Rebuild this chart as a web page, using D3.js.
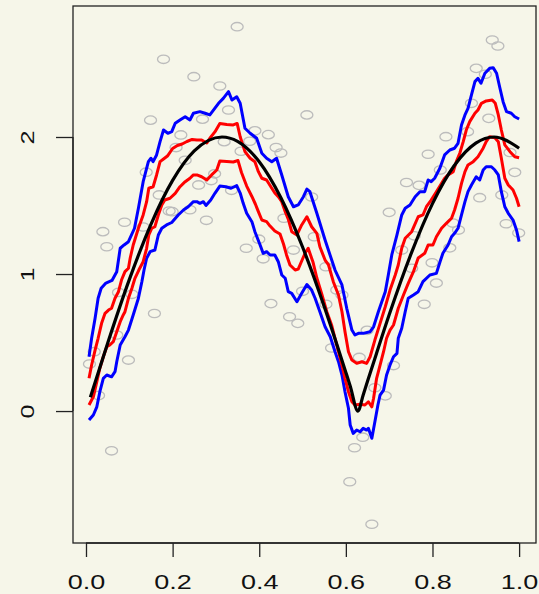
<!DOCTYPE html>
<html>
<head>
<meta charset="utf-8">
<script src="https://cdn.jsdelivr.net/npm/d3@7"></script>
<style>
  html, body { margin: 0; padding: 0; background: #f6f6e9; }
  svg { display: block; }
</style>
</head>
<body>
<div id="chart"></div>
<script>

// observed points (x, y)
const obsX = [0.008,0.019,0.029,0.059,0.039,0.048,0.075,0.106,0.071,0.098,0.089,0.132,0.158,0.139,0.149,0.169,0.179,0.192,0.199,0.208,
  0.219,0.229,0.240,0.249,0.260,0.269,0.278,0.289,0.297,0.309,0.319,0.329,0.336,0.349,0.358,0.370,0.378,0.390,0.399,0.409,
  0.421,0.427,0.439,0.450,0.457,0.470,0.479,0.489,0.500,0.510,0.527,0.521,0.554,0.554,0.579,0.591,0.567,0.609,0.620,0.631,
  0.639,0.649,0.660,0.667,0.691,0.700,0.710,0.729,0.740,0.752,0.758,0.769,0.781,0.790,0.799,0.809,0.818,0.831,0.840,0.847,
  0.860,0.881,0.890,0.901,0.909,0.922,0.930,0.938,0.951,0.960,0.970,0.979,0.990,0.999];
const obsY = [0.343,0.433,0.113,-0.290,1.309,1.199,0.866,0.852,0.555,0.372,1.378,1.343,0.712,1.743,2.123,1.577,2.567,1.460,1.455,1.923,
  2.015,1.830,1.469,2.440,1.650,2.130,1.392,1.682,1.731,2.372,1.966,2.197,1.611,2.805,1.896,1.188,1.969,2.045,1.254,1.111,
  2.017,0.784,1.923,1.883,1.407,0.688,1.175,0.640,0.874,2.161,1.272,1.562,1.053,0.779,0.883,0.847,0.460,-0.516,-0.268,0.391,
  -0.191,0.589,-0.826,0.170,0.111,1.450,0.332,1.175,1.668,1.042,1.279,1.647,0.779,1.874,1.082,0.934,1.759,2.002,1.191,1.372,
  1.321,2.039,2.246,2.501,1.557,2.458,2.136,2.708,2.664,1.577,1.367,1.887,1.742,1.299];

// true mean curve
const trueCurve = [[0.01,0.100],[0.05,0.495],[0.10,0.959],[0.15,1.363],[0.20,1.683],[0.25,1.898],[0.314,2.000],[0.35,1.968],
  [0.40,1.819],[0.45,1.556],[0.50,1.197],[0.55,0.763],[0.58,0.478],[0.60,0.282],[0.61,0.183],[0.628,0.000],[0.64,0.117],
  [0.65,0.217],[0.67,0.413],[0.70,0.702],[0.75,1.143],[0.80,1.514],[0.85,1.790],[0.90,1.955],[0.942,2.000],[1.00,1.918]];

// outer band (blue)
const upperBlue = [[0.007,0.396],[0.013,0.531],[0.021,0.677],[0.028,0.823],[0.035,0.896],[0.046,0.934],[0.060,0.953],[0.071,1.017],
  [0.079,1.188],[0.088,1.212],[0.098,1.236],[0.112,1.334],[0.121,1.480],[0.132,1.674],[0.144,1.820],[0.150,1.845],[0.155,1.820],
  [0.163,1.869],[0.171,1.966],[0.179,2.051],[0.189,2.027],[0.198,2.039],[0.206,2.100],[0.217,2.124],[0.229,2.148],[0.240,2.124],
  [0.248,2.173],[0.263,2.185],[0.275,2.173],[0.286,2.161],[0.306,2.246],[0.317,2.282],[0.329,2.331],[0.337,2.270],[0.348,2.294],
  [0.356,2.246],[0.367,2.064],[0.379,2.027],[0.394,1.991],[0.406,1.881],[0.417,1.845],[0.429,1.820],[0.440,1.845],[0.452,1.723],
  [0.467,1.564],[0.479,1.491],[0.490,1.504],[0.502,1.564],[0.510,1.620],[0.517,1.601],[0.533,1.443],[0.552,1.248],[0.575,1.029],
  [0.591,0.920],[0.602,0.750],[0.614,0.591],[0.621,0.555],[0.629,0.567],[0.640,0.567],[0.656,0.579],[0.664,0.615],[0.675,0.725],
  [0.691,0.871],[0.698,0.993],[0.706,1.139],[0.718,1.285],[0.729,1.431],[0.737,1.480],[0.748,1.504],[0.760,1.564],[0.771,1.601],
  [0.782,1.601],[0.790,1.686],[0.797,1.674],[0.805,1.699],[0.817,1.772],[0.828,1.869],[0.840,1.905],[0.851,1.918],[0.859,1.954],
  [0.867,2.088],[0.875,2.161],[0.882,2.209],[0.890,2.307],[0.898,2.404],[0.905,2.428],[0.912,2.392],[0.921,2.465],[0.932,2.501],
  [0.940,2.506],[0.948,2.465],[0.955,2.367],[0.963,2.258],[0.971,2.185],[0.982,2.173],[0.990,2.148],[1.000,2.131]];

const lowerBlue = [[0.007,-0.066],[0.017,-0.029],[0.025,0.031],[0.032,0.141],[0.040,0.239],[0.048,0.263],[0.059,0.250],[0.067,0.287],
  [0.071,0.360],[0.079,0.482],[0.090,0.542],[0.098,0.591],[0.109,0.701],[0.121,0.823],[0.129,0.944],[0.134,1.029],[0.140,1.115],
  [0.148,1.163],[0.159,1.175],[0.167,1.285],[0.175,1.334],[0.186,1.358],[0.198,1.376],[0.213,1.431],[0.225,1.467],[0.236,1.491],
  [0.248,1.528],[0.256,1.528],[0.263,1.516],[0.271,1.528],[0.277,1.500],[0.288,1.540],[0.298,1.591],[0.309,1.642],[0.323,1.637],
  [0.335,1.626],[0.348,1.645],[0.356,1.591],[0.363,1.516],[0.371,1.443],[0.383,1.382],[0.390,1.309],[0.402,1.212],[0.409,1.151],
  [0.417,1.163],[0.425,1.139],[0.436,1.139],[0.444,1.090],[0.452,0.993],[0.460,0.969],[0.467,0.871],[0.475,0.859],[0.487,0.798],
  [0.498,0.859],[0.510,0.923],[0.521,0.883],[0.529,0.823],[0.540,0.725],[0.552,0.615],[0.564,0.542],[0.575,0.433],[0.583,0.360],
  [0.591,0.263],[0.598,0.141],[0.606,0.020],[0.610,-0.102],[0.617,-0.163],[0.625,-0.139],[0.633,-0.151],[0.640,-0.126],
  [0.648,-0.139],[0.652,-0.126],[0.660,-0.199],[0.667,-0.078],[0.674,0.044],[0.679,0.117],[0.687,0.153],[0.694,0.263],
  [0.702,0.336],[0.710,0.396],[0.718,0.421],[0.721,0.531],[0.729,0.604],[0.737,0.725],[0.744,0.823],[0.756,0.847],[0.767,0.871],
  [0.778,0.944],[0.794,0.993],[0.809,1.005],[0.818,1.095],[0.824,1.151],[0.836,1.212],[0.844,1.272],[0.851,1.297],[0.859,1.334],
  [0.867,1.431],[0.875,1.528],[0.882,1.601],[0.890,1.650],[0.901,1.710],[0.909,1.686],[0.917,1.759],[0.924,1.783],[0.936,1.783],
  [0.944,1.759],[0.952,1.723],[0.959,1.601],[0.967,1.491],[0.975,1.443],[0.986,1.394],[0.994,1.321],[1.000,1.236]];

// inner band (red)
const upperRed = [[0.007,0.239],[0.013,0.336],[0.021,0.445],[0.028,0.531],[0.036,0.640],[0.044,0.713],[0.052,0.737],[0.059,0.750],
  [0.067,0.823],[0.075,0.871],[0.082,0.956],[0.090,1.017],[0.098,1.042],[0.102,1.115],[0.109,1.212],[0.121,1.334],[0.132,1.431],
  [0.140,1.528],[0.145,1.626],[0.155,1.637],[0.163,1.723],[0.171,1.820],[0.179,1.839],[0.188,1.861],[0.200,1.916],[0.211,1.938],
  [0.222,1.949],[0.233,1.967],[0.245,1.982],[0.256,1.978],[0.267,1.978],[0.279,1.956],[0.286,1.991],[0.298,2.039],[0.309,2.099],
  [0.325,2.091],[0.340,2.088],[0.349,2.099],[0.356,2.002],[0.367,1.893],[0.379,1.845],[0.390,1.820],[0.398,1.747],[0.406,1.699],
  [0.417,1.686],[0.429,1.626],[0.436,1.591],[0.444,1.564],[0.452,1.528],[0.460,1.455],[0.467,1.401],[0.475,1.309],[0.487,1.285],
  [0.498,1.358],[0.510,1.418],[0.521,1.345],[0.533,1.297],[0.540,1.199],[0.552,1.102],[0.560,1.066],[0.571,0.944],[0.583,0.847],
  [0.591,0.725],[0.598,0.579],[0.606,0.433],[0.614,0.372],[0.625,0.348],[0.637,0.360],[0.648,0.348],[0.656,0.396],[0.667,0.518],
  [0.679,0.640],[0.691,0.761],[0.702,0.883],[0.714,0.993],[0.721,1.066],[0.729,1.188],[0.737,1.261],[0.752,1.309],[0.767,1.418],
  [0.778,1.431],[0.786,1.491],[0.797,1.540],[0.809,1.601],[0.821,1.662],[0.828,1.699],[0.836,1.723],[0.848,1.747],[0.855,1.820],
  [0.863,1.881],[0.871,1.966],[0.878,2.051],[0.886,2.112],[0.898,2.173],[0.905,2.197],[0.913,2.246],[0.924,2.263],[0.938,2.270],
  [0.945,2.246],[0.952,2.161],[0.959,2.051],[0.967,1.942],[0.979,1.893],[0.990,1.856],[1.000,1.849]];

const lowerRed = [[0.007,0.044],[0.017,0.104],[0.025,0.214],[0.032,0.312],[0.040,0.396],[0.048,0.469],[0.055,0.482],[0.063,0.506],
  [0.071,0.579],[0.079,0.652],[0.086,0.701],[0.090,0.725],[0.098,0.823],[0.106,0.896],[0.113,0.969],[0.122,1.029],[0.132,1.090],
  [0.140,1.188],[0.145,1.285],[0.152,1.334],[0.159,1.345],[0.167,1.431],[0.175,1.504],[0.182,1.540],[0.194,1.553],[0.206,1.589],
  [0.217,1.637],[0.229,1.674],[0.240,1.699],[0.248,1.723],[0.256,1.723],[0.267,1.710],[0.279,1.686],[0.290,1.723],[0.302,1.759],
  [0.309,1.825],[0.325,1.821],[0.340,1.818],[0.351,1.828],[0.359,1.741],[0.371,1.642],[0.383,1.566],[0.391,1.511],[0.398,1.455],
  [0.406,1.394],[0.417,1.382],[0.425,1.350],[0.436,1.314],[0.448,1.292],[0.456,1.219],[0.463,1.139],[0.471,1.066],[0.483,1.029],
  [0.490,1.036],[0.498,1.095],[0.506,1.153],[0.513,1.188],[0.524,1.088],[0.533,0.971],[0.545,0.847],[0.556,0.725],[0.567,0.628],
  [0.575,0.531],[0.583,0.433],[0.591,0.336],[0.598,0.239],[0.606,0.141],[0.614,0.068],[0.621,0.044],[0.633,0.049],[0.644,0.044],
  [0.652,0.068],[0.660,0.031],[0.664,0.093],[0.671,0.239],[0.679,0.336],[0.687,0.433],[0.694,0.531],[0.702,0.591],[0.710,0.628],
  [0.721,0.750],[0.733,0.847],[0.744,0.932],[0.756,1.017],[0.767,1.117],[0.782,1.151],[0.790,1.212],[0.801,1.212],[0.809,1.272],
  [0.821,1.334],[0.832,1.370],[0.844,1.407],[0.851,1.467],[0.859,1.553],[0.867,1.662],[0.875,1.747],[0.882,1.796],[0.894,1.820],
  [0.905,1.856],[0.917,1.918],[0.924,1.966],[0.932,2.002],[0.944,1.995],[0.952,1.966],[0.959,1.845],[0.967,1.699],[0.975,1.650],
  [0.986,1.613],[0.994,1.553],[1.000,1.491]];

const xTicks = [0, 0.2, 0.4, 0.6, 0.8, 1.0];
const yTicks = [0, 1, 2];

function drawChart() {
    const width = 539, height = 594;
    const box = { left: 73, right: 536, top: 6, bottom: 543 };

    const svg = d3.select('#chart').append('svg')
        .attr('width', width)
        .attr('height', height);

    svg.append('rect')
        .attr('width', width).attr('height', height)
        .style('fill', '#f6f6e9');

    const xScale = d3.scaleLinear()
        .domain([-0.030, 1.039])
        .range([box.left, box.right]);

    const yScale = d3.scaleLinear()
        .domain([-0.963, 2.956])
        .range([box.bottom, box.top]);

    // points
    svg.append('g').selectAll('ellipse')
        .data(obsX.map((d, i) => [d, obsY[i]]))
        .join('ellipse')
        .attr('cx', d => xScale(d[0]))
        .attr('cy', d => yScale(d[1]))
        .attr('rx', 6)
        .attr('ry', 4.2)
        .style('fill', 'none')
        .style('stroke', '#bcbcbc')
        .style('stroke-width', 1.3);

    const lineGen = d3.line()
        .x(d => xScale(d[0]))
        .y(d => yScale(d[1]));

    const bands = [
        { data: upperBlue, color: '#0000ff' },
        { data: lowerBlue, color: '#0000ff' },
        { data: upperRed, color: '#ff0000' },
        { data: lowerRed, color: '#ff0000' }
    ];

    bands.forEach(b => {
        svg.append('path')
            .attr('d', lineGen(b.data))
            .style('fill', 'none')
            .style('stroke', b.color)
            .style('stroke-width', 3)
            .style('stroke-linejoin', 'round');
    });

    svg.append('path')
        .attr('d', lineGen.curve(d3.curveMonotoneX)(trueCurve))
        .style('fill', 'none')
        .style('stroke', '#000')
        .style('stroke-width', 3.2);

    // axes
    const xAxis = svg.append('g')
        .attr('transform', `translate(0,${box.bottom})`)
        .call(d3.axisBottom(xScale)
            .tickValues(xTicks)
            .tickFormat(d3.format('.1f'))
            .tickSize(14)
            .tickSizeOuter(0));

    xAxis.select('.domain')
        .attr('d', `M${xScale(0)},0H${xScale(1)}`);

    xAxis.selectAll('text')
        .attr('y', null).attr('dy', null)
        .attr('transform', 'translate(0,46) scale(1.35,1)')
        .style('font-family', 'Liberation Sans, Arial, sans-serif')
        .style('font-size', '20px')
        .style('fill', '#111');

    const yAxis = svg.append('g')
        .attr('transform', `translate(${box.left},0)`)
        .call(d3.axisLeft(yScale)
            .tickValues(yTicks)
            .tickFormat(d3.format('d'))
            .tickSize(17)
            .tickSizeOuter(0));

    yAxis.select('.domain')
        .attr('d', `M0,${yScale(0)}V${yScale(2)}`);

    yAxis.selectAll('text')
        .attr('x', null).attr('dy', null)
        .attr('text-anchor', 'middle')
        .attr('transform', 'translate(-39.5,0) rotate(-90) scale(1.4,1)')
        .style('font-family', 'Liberation Sans, Arial, sans-serif')
        .style('font-size', '18px')
        .style('fill', '#111');

    svg.selectAll('.tick line, .domain')
        .style('stroke', '#222')
        .style('stroke-width', 1.3);

    // plot frame
    svg.append('rect')
        .attr('x', box.left).attr('y', box.top)
        .attr('width', box.right - box.left)
        .attr('height', box.bottom - box.top)
        .style('fill', 'none')
        .style('stroke', '#222')
        .style('stroke-width', 1.3);
}

drawChart();
</script>
</body>
</html>
